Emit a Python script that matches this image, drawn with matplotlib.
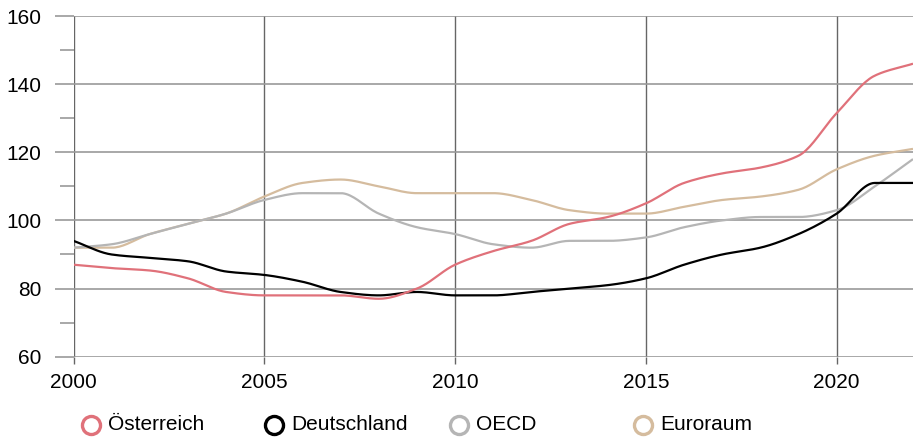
import numpy as np
import matplotlib.pyplot as plt
from matplotlib.lines import Line2D

plt.rcParams['font.family'] = ['Liberation Sans', 'DejaVu Sans']

years = list(range(2000, 2023))
oesterreich = [87, 86, 85.3, 83, 79, 78, 78, 78, 77, 80, 87, 91, 94, 99, 101, 105,
               111, 113.8, 115.5, 119, 131.5, 142.5, 146]
deutschland = [94, 90, 89, 88, 85, 84, 82, 79, 78, 79, 78, 78, 79, 80, 81, 83,
               87, 90, 92, 96, 102, 111, 111]
oecd = [92, 93, 96, 99, 102, 106, 108, 108, 102, 98, 96, 93, 92, 94, 94, 95,
        98, 100, 101, 101, 103, 110, 118]
euroraum = [92, 92, 96, 99, 102, 107, 111, 112, 110, 108, 108, 108, 106, 103, 102, 102,
            104, 106, 107, 109, 115, 119, 121]

labels = ['Österreich', 'Deutschland', 'OECD', 'Euroraum']
colors = ['#e0717a', '#000000', '#b5b5b5', '#d5bc9e']


def smooth(x, y, n=20):
    # monotone cubic (Fritsch-Carlson), only for drawing the curve
    x = np.asarray(x, float)
    y = np.asarray(y, float)
    h = np.diff(x)
    d = np.diff(y) / h
    m = np.zeros_like(y)
    m[0], m[-1] = d[0], d[-1]
    for i in range(1, len(y) - 1):
        if d[i - 1] * d[i] <= 0:
            m[i] = 0
        else:
            m[i] = 2 / (1 / d[i - 1] + 1 / d[i])
    xs, ys = [], []
    for i in range(len(h)):
        t = np.linspace(0, 1, n, endpoint=False)
        h00 = 2 * t**3 - 3 * t**2 + 1
        h10 = t**3 - 2 * t**2 + t
        h01 = -2 * t**3 + 3 * t**2
        h11 = t**3 - t**2
        xs.append(x[i] + t * h[i])
        ys.append(h00 * y[i] + h10 * h[i] * m[i] + h01 * y[i + 1] + h11 * h[i] * m[i + 1])
    xs.append([x[-1]])
    ys.append([y[-1]])
    return np.concatenate(xs), np.concatenate(ys)


fig = plt.figure(figsize=(9.13, 4.37), dpi=100)
ax = fig.add_axes([73.5 / 913, 1 - 356.7 / 437, (913 - 73.5) / 913, (356.7 - 16) / 437])

for s, c in zip([oesterreich, deutschland, oecd, euroraum][::-1], colors[::-1]):
    sx, sy = smooth(years, s)
    ax.plot(sx, sy, color=c, lw=1.6, zorder=3, solid_capstyle='butt')

ax.set_xlim(2000, 2022)
ax.set_ylim(60, 160)
ax.set_xticks([2000, 2005, 2010, 2015, 2020])
ax.set_yticks([60, 80, 100, 120, 140, 160])
ax.set_yticks([70, 90, 110, 130, 150], minor=True)
ax.grid(axis='y', which='major', color='#999999', lw=1.2, zorder=1)
ax.grid(axis='x', which='major', color='#666666', lw=1.0, zorder=1)
for sp in ax.spines.values():
    sp.set_visible(False)
ax.tick_params(axis='y', which='major', length=14, width=1.2, color='#999999', pad=9,
               labelsize=15)
ax.tick_params(axis='y', which='minor', length=10, width=1.2, color='#999999')
ax.tick_params(axis='x', which='major', length=5, width=1.0, color='#666666', pad=7,
               labelsize=15)

# legend
leg_circle_x = [91, 274, 459, 643]
leg_y = 1 - 425 / 437
for lx, lab, c in zip(leg_circle_x, labels, colors):
    fig.add_artist(Line2D([lx / 913], [leg_y], marker='o', markersize=13,
                          markerfacecolor='white', markeredgecolor=c,
                          markeredgewidth=2.4, linestyle='none',
                          transform=fig.transFigure))
    fig.text((lx + 17) / 913, leg_y, lab, fontsize=15, va='center', ha='left')

fig.savefig('out.png', dpi=100)
